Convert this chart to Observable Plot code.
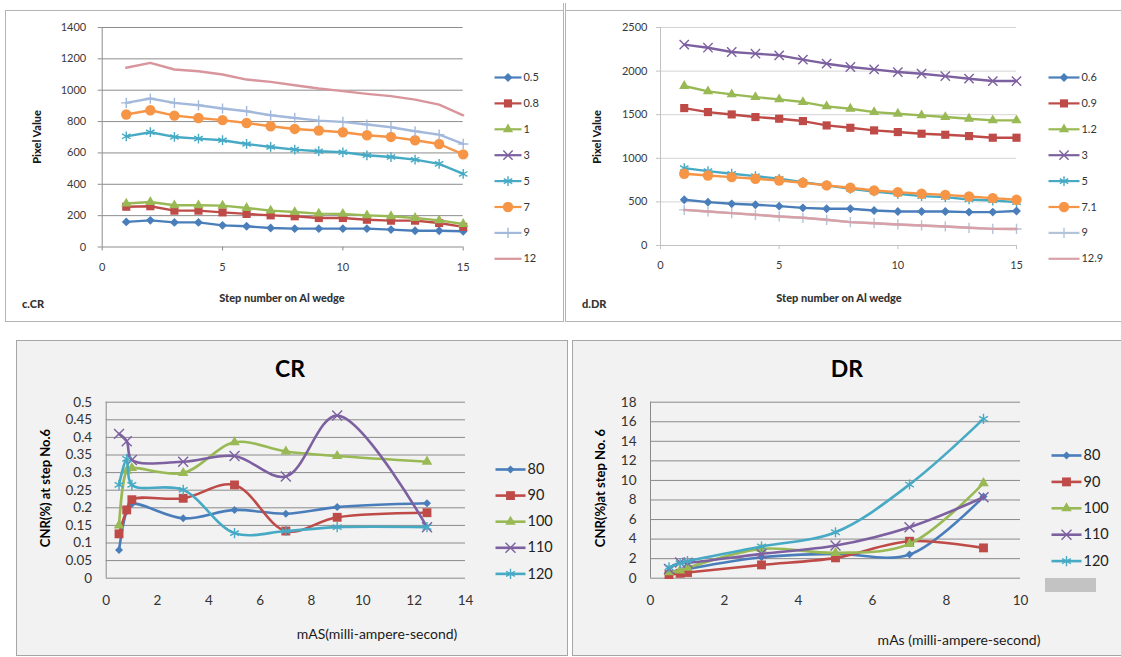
<!DOCTYPE html>
<html><head><meta charset="utf-8">
<script src="https://cdn.jsdelivr.net/npm/d3@7"></script>
<script src="https://cdn.jsdelivr.net/npm/@observablehq/plot@0.6"></script>
<style>
body{margin:0;background:#fff;width:1121px;height:657px;overflow:hidden;position:relative;font-family:Lato,"Open Sans",sans-serif}
.box{position:absolute;box-sizing:border-box}
.t{position:absolute;white-space:nowrap;transform:translate(-50%,-50%);color:#1a1a1a}
.l{position:absolute;white-space:nowrap;transform:translate(0,-50%);color:#1a1a1a}
.rot{transform:translate(-50%,-50%) rotate(-90deg)}
svg{position:absolute}
</style></head><body>
<div class="box" style="left:5px;top:10px;width:559px;height:312px;border:1px solid #b4b4b4;background:#fff"></div>
<div class="box" style="left:565px;top:10px;width:560px;height:312px;border:1px solid #b4b4b4;background:#fff"></div>
<div class="box" style="left:563px;top:3px;width:3px;height:319px;border-left:1px solid #b4b4b4;border-right:1px solid #b4b4b4"></div>
<div class="box" style="left:16px;top:340px;width:552px;height:316px;border:1px solid #a6a6a6;background:#f2f2f2"></div>
<div class="box" style="left:572px;top:340px;width:552px;height:316px;border:1px solid #a6a6a6;background:#f2f2f2"></div>
<div class="box" style="left:1045px;top:578px;width:51px;height:14px;background:#c3c3c3"></div>

<div class="t rot" style="left:36px;top:137px;font-size:11px;font-weight:900">Pixel Value</div>
<div class="t" style="left:282px;top:297px;font-size:11px;font-weight:900;color:#333">Step number on Al wedge</div>
<div class="l" style="left:22px;top:303px;font-size:11px;font-weight:900;color:#333">c.CR</div>
<div class="t rot" style="left:596px;top:137px;font-size:11px;font-weight:900">Pixel Value</div>
<div class="t" style="left:839px;top:297px;font-size:11px;font-weight:900;color:#333">Step number on Al wedge</div>
<div class="l" style="left:582px;top:303px;font-size:11px;font-weight:900;color:#333">d.DR</div>

<div class="t" style="left:290px;top:368px;font-size:23px;font-weight:bold;color:#000">CR</div>
<div class="t" style="left:847px;top:368px;font-size:23px;font-weight:bold;color:#000">DR</div>
<div class="t rot" style="left:45px;top:488px;font-size:13px;font-weight:bold;color:#000">CNR(%) at step No.6</div>
<div class="t rot" style="left:600px;top:488px;font-size:13px;font-weight:bold;color:#000">CNR(%)at step No. 6</div>
<div class="t" style="left:377px;top:633px;font-size:14px;color:#1a1a1a">mAS(milli-ampere-second)</div>
<div class="t" style="left:959px;top:639px;font-size:14px;color:#1a1a1a">mAs (milli-ampere-second)</div>

<script>
// ---------- DATA ----------
const steps = [1,2,3,4,5,6,7,8,9,10,11,12,13,14,15];

// c.CR : pixel value vs step number (series = mAs)
const crPixelKeys = ["0.5","0.8","1","3","5","7","9","12"];
const crPix_0_5 = [160,170,157,157,138,132,121,117,117,117,117,111,104,104,100];
const crPix_0_8 = [257,260,232,232,221,211,202,196,185,185,174,168,168,153,128];
const crPix_1   = [277,287,266,266,264,249,232,223,213,211,202,196,185,170,147];
const crPix_3   = []; // not visible in the chart
const crPix_5   = [706,732,702,691,681,657,638,621,611,604,585,574,557,530,466];
const crPix_7   = [845,872,838,823,809,791,770,753,743,732,713,702,681,657,591];
const crPix_9   = [919,947,919,904,883,866,840,823,806,798,781,764,738,717,657];
const crPix_12  = [1143,1174,1132,1121,1100,1068,1053,1032,1011,994,977,962,940,908,840];
const crPixYTicks = [0,200,400,600,800,1000,1200,1400];
const pixXTicks = [0,5,10,15];

// d.DR : pixel value vs step number
const drPixelKeys = ["0.6","0.9","1.2","3","5","7.1","9","12.9"];
const drPix_0_6 = [524,497,478,467,451,432,421,421,402,390,390,390,383,383,395];
const drPix_0_9 = [1576,1530,1503,1473,1454,1427,1377,1350,1320,1301,1282,1270,1255,1236,1236];
const drPix_1_2 = [1829,1767,1733,1702,1676,1645,1595,1568,1530,1511,1492,1473,1454,1435,1435];
const drPix_3   = [2303,2268,2219,2200,2181,2131,2085,2047,2020,1989,1970,1943,1913,1886,1886];
const drPix_5   = [887,853,823,796,765,727,689,650,620,593,566,555,528,516,497];
const drPix_7_1 = [823,803,784,765,746,719,689,662,631,612,593,581,562,543,524];
const drPix_9   = [409,390,371,352,333,318,295,268,256,241,230,218,203,191,190];
const drPix_12_9= [409,390,371,352,333,318,295,268,256,241,230,218,203,191,190];
const drPixYTicks = [0,500,1000,1500,2000,2500];

// CR : CNR vs mAs (series = kVp)
const kvKeys = ["80","90","100","110","120"];
const crMas = [0.5,0.8,1,3,5,7,9,12.5];
const crCnr_80  = [0.080,0.190,0.211,0.170,0.194,0.183,0.202,0.213];
const crCnr_90  = [0.126,0.194,0.223,0.227,0.265,0.134,0.173,0.186];
const crCnr_100 = [0.150,0.305,0.313,0.299,0.386,0.360,0.347,0.331];
const crCnr_110 = [0.410,0.389,0.336,0.331,0.347,0.289,0.462,0.145];
const crCnr_120 = [0.265,0.339,0.265,0.251,0.128,0.134,0.145,0.145];
const crCnrYTicks = [0,0.05,0.1,0.15,0.2,0.25,0.3,0.35,0.4,0.45,0.5];
const crMasTicks = [0,2,4,6,8,10,12,14];

// DR : CNR vs mAs
const drMas = [0.5,0.8,1,3,5,7,9];
const drCnr_80  = [0.61,0.80,0.95,2.15,2.49,2.42,8.35];
const drCnr_90  = [0.37,0.50,0.58,1.36,2.08,3.78,3.10];
const drCnr_100 = [0.61,0.78,1.06,3.00,2.59,3.51,9.72];
const drCnr_110 = [0.95,1.60,1.57,2.49,3.34,5.22,8.28];
const drCnr_120 = [1.12,1.53,1.74,3.24,4.70,9.58,16.29];
const drCnrYTicks = [0,2,4,6,8,10,12,14,16,18];
const drMasTicks = [0,2,4,6,8,10];

// ---------- STYLES ----------
const topColors = ["#4A7EBB","#BE4B48","#98B954","#7D60A0","#46AAC5","#F59545","#A3B9DC","#D8959B"];
const topColorsDR = ["#4A7EBB","#BE4B48","#98B954","#7D60A0","#46AAC5","#F59545","#B4C4D8","#D9A1A7"];
const topSyms = ["diamond2","square","triangle","times","asterisk","circle","plus",null];
const kvColors = ["#4A7EBB","#BE4B48","#98B954","#7D60A0","#46AAC5"];
const kvSyms = ["diamond2","square","triangle","times","asterisk"];
const FILLED = new Set(["diamond2","square","triangle","circle"]);

function tidy(keys, series, xs) {
  return keys.map((k,i) => series[i].map((v,j) => ({k, x: xs[j], y: v})));
}

function seriesMarks(groups, keys, syms, rad, lw, curve) {
  const marks = [];
  keys.forEach((k,i) => {
    const sub = groups[i];
    if (!sub.length) return;
    marks.push(Plot.line(sub, {x:"x", y:"y", stroke:"k", strokeWidth: lw, curve}));
    const s = syms[i];
    if (s) {
      if (FILLED.has(s)) marks.push(Plot.dot(sub, {x:"x", y:"y", symbol: s, r: rad[s], fill:"k", stroke:"none"}));
      else marks.push(Plot.dot(sub, {x:"x", y:"y", symbol: s, r: rad[s], stroke:"k", strokeWidth:1.4, fill:"none"}));
    }
  });
  return marks;
}

function legend({keys, syms, colors, rad, left, top, lineLen, step, lw, fontSize, textColor}) {
  const items = keys.map((k,i) => ({k, i}));
  const H = step*(keys.length-1) + 30;
  const marks = [
    Plot.link(items, {x1: 0, x2: 1, y1: "i", y2: "i", stroke: "k", strokeWidth: lw})
  ];
  items.forEach((it,i) => {
    const s = syms[i];
    if (!s) return;
    if (FILLED.has(s)) marks.push(Plot.dot([it], {x: 0.5, y: "i", symbol: s, r: rad[s], fill: "k"}));
    else marks.push(Plot.dot([it], {x: 0.5, y: "i", symbol: s, r: rad[s], stroke: "k", strokeWidth: 1.4}));
  });
  marks.push(Plot.text(items, {x: 1, y: "i", text: "k", textAnchor: "start", dx: 2, fontSize, fill: textColor}));
  const svg = Plot.plot({
    width: lineLen + 60, height: H, margin: 0,
    style: {background: "transparent", fontFamily: "Lato, 'Open Sans', sans-serif", overflow: "visible"},
    x: {domain: [0,1], range: [2, 2 + lineLen], axis: null},
    y: {domain: [0, keys.length-1], range: [15, 15 + step*(keys.length-1)], axis: null},
    color: {domain: keys, range: colors},
    marks
  });
  svg.style.left = (left - 2) + "px";
  svg.style.top = (top - 15) + "px";
  document.body.appendChild(svg);
}

function chart({left, top, width, height, mL, mR, mT, mB, xDomain, yDomain, xTicks, yTicks, keys, colors, groups, syms, rad, lw, curve, grid, axis, tickColor, fontSize, xTickSize, xPad, yTickSize, yPad, yFmt}) {
  const marks = [
    Plot.ruleY(yTicks.filter(v => v !== 0), {stroke: grid, strokeWidth: 1}),
    Plot.ruleY([0], {stroke: axis, strokeWidth: 1}),
    Plot.ruleX([0], {stroke: axis, strokeWidth: 1}),
    Plot.axisY({ticks: yTicks, label: null, tickSize: yTickSize, tickPadding: yPad, stroke: axis, fill: tickColor, fontSize, tickFormat: yFmt || (d => String(d))}),
    Plot.axisX({ticks: xTicks, label: null, tickSize: xTickSize, tickPadding: xPad, stroke: axis, fill: tickColor, fontSize, tickFormat: d => String(d)}),
    ...seriesMarks(groups, keys, syms, rad, lw, curve)
  ];
  const svg = Plot.plot({
    width, height, marginLeft: mL, marginRight: mR, marginTop: mT, marginBottom: mB,
    style: {background: "transparent", fontFamily: "Lato, 'Open Sans', sans-serif", overflow: "visible"},
    x: {domain: xDomain, label: null},
    y: {domain: yDomain, label: null},
    color: {domain: keys, range: colors},
    marks
  });
  svg.style.left = left + "px";
  svg.style.top = top + "px";
  document.body.appendChild(svg);
}

const radTop = {diamond2: 4.0, square: 4.6, triangle: 3.8, times: 4.3, asterisk: 4.6, circle: 5.2, plus: 3.4};
const radBot = {diamond2: 3.6, square: 5.0, triangle: 3.9, times: 4.6, asterisk: 4.8, circle: 5, plus: 3.4};

// ---- c.CR pixel value ----
chart({
  left: 0, top: 0, width: 560, height: 330, mL: 101.7, mR: 97.3, mT: 27, mB: 83.5,
  xDomain: [0,15], yDomain: [0,1400], xTicks: pixXTicks, yTicks: crPixYTicks,
  keys: crPixelKeys, colors: topColors, syms: topSyms, rad: radTop,
  groups: tidy(crPixelKeys, [crPix_0_5,crPix_0_8,crPix_1,crPix_3,crPix_5,crPix_7,crPix_9,crPix_12], steps),
  lw: 2.4, curve: "linear", grid: "#8d8d8d", axis: "#8d8d8d", tickColor: "#3a3a3a", fontSize: 11,
  xTickSize: 4, xPad: 12, yTickSize: 4, yPad: 12
});
legend({keys: crPixelKeys, syms: topSyms, colors: topColors, rad: radTop, left: 494, top: 76.5, lineLen: 27, step: 25.9, lw: 2.2, fontSize: 11, textColor: "#333"});

// ---- d.DR pixel value ----
chart({
  left: 565, top: 0, width: 556, height: 330, mL: 95, mR: 105, mT: 27, mB: 85,
  xDomain: [0,15], yDomain: [0,2500], xTicks: pixXTicks, yTicks: drPixYTicks,
  keys: drPixelKeys, colors: topColorsDR, syms: topSyms, rad: radTop,
  groups: tidy(drPixelKeys, [drPix_0_6,drPix_0_9,drPix_1_2,drPix_3,drPix_5,drPix_7_1,drPix_9,drPix_12_9], steps),
  lw: 2.4, curve: "linear", grid: "#d4d4d4", axis: "#c2c2c2", tickColor: "#3a3a3a", fontSize: 11,
  xTickSize: 4, xPad: 12, yTickSize: 4, yPad: 9
});
legend({keys: drPixelKeys, syms: topSyms, colors: topColorsDR, rad: radTop, left: 1048, top: 76.5, lineLen: 31, step: 25.9, lw: 2.2, fontSize: 11, textColor: "#333"});

// ---- CR CNR ----
chart({
  left: 16, top: 340, width: 552, height: 316, mL: 89.7, mR: 103, mT: 61.7, mB: 78.3,
  xDomain: [0,14], yDomain: [0,0.5], xTicks: crMasTicks, yTicks: crCnrYTicks,
  keys: kvKeys, colors: kvColors, syms: kvSyms, rad: radBot,
  groups: tidy(kvKeys, [crCnr_80,crCnr_90,crCnr_100,crCnr_110,crCnr_120], crMas),
  lw: 2.6, curve: "catmull-rom", grid: "#8a8a8a", axis: "#8a8a8a", tickColor: "#333", fontSize: 13.5,
  xTickSize: 0, xPad: 17, yTickSize: 0, yPad: 14
});
legend({keys: kvKeys, syms: kvSyms, colors: kvColors, rad: radBot, left: 495, top: 469, lineLen: 30, step: 26.1, lw: 2.6, fontSize: 14.5, textColor: "#222"});

// ---- DR CNR ----
chart({
  left: 572, top: 340, width: 548, height: 316, mL: 78, mR: 100, mT: 61.7, mB: 78.3,
  xDomain: [0,10], yDomain: [0,18], xTicks: drMasTicks, yTicks: drCnrYTicks,
  keys: kvKeys, colors: kvColors, syms: kvSyms, rad: radBot,
  groups: tidy(kvKeys, [drCnr_80,drCnr_90,drCnr_100,drCnr_110,drCnr_120], drMas),
  lw: 2.6, curve: "catmull-rom", grid: "#8a8a8a", axis: "#8a8a8a", tickColor: "#333", fontSize: 13.5,
  xTickSize: 0, xPad: 17, yTickSize: 0, yPad: 14
});
legend({keys: kvKeys, syms: kvSyms, colors: kvColors, rad: radBot, left: 1051, top: 455, lineLen: 30, step: 26.4, lw: 2.6, fontSize: 14.5, textColor: "#222"});
</script>
</body></html>
